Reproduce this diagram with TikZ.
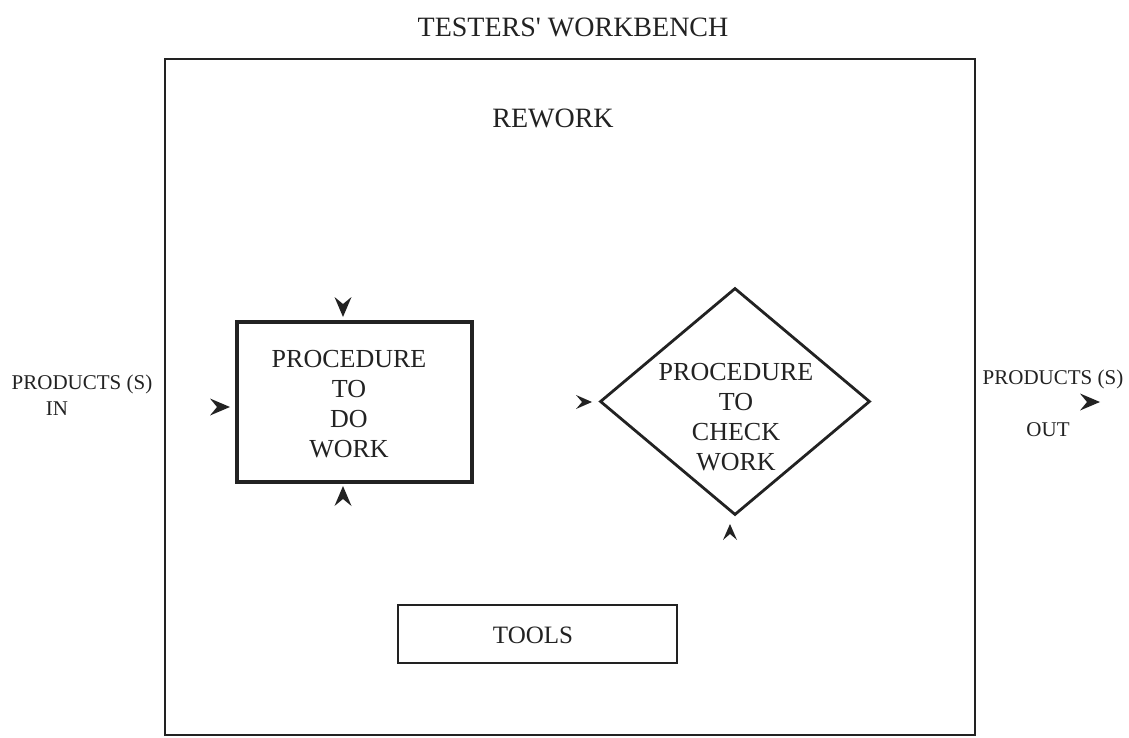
\documentclass[tikz,border=0pt]{standalone}
\usepackage{fontspec}
\setmainfont{Liberation Serif}
\usetikzlibrary{shapes.geometric}
\definecolor{ink}{HTML}{222222}
\tikzset{
  txt/.style={text=ink,inner sep=0pt,align=center,font=\fontsize{26}{30}\selectfont},
  smalltxt/.style={text=ink,inner sep=0pt,font=\fontsize{21}{24}\selectfont},
  arrowhead/.pic={\fill[ink] (0,0) -- (-20,-8.5) -- (-13,0) -- (-20,8.5) -- cycle;},
  smallarrowhead/.pic={\fill[ink] (0,0) -- (-16,-7) -- (-10,0) -- (-16,7) -- cycle;},
}
\begin{document}
\begin{tikzpicture}[x=1pt,y=-1pt]
\useasboundingbox (0,0) rectangle (1129,738);
% title
\node[txt,font=\fontsize{28}{32}\selectfont] (title) at (573,27) {TESTERS\textquotesingle\ WORKBENCH};
% frame
\node[draw=ink,line width=2.8pt,minimum width=810pt,minimum height=676pt,inner sep=0pt] (frame) at (570,397) {};
\node[txt,font=\fontsize{28}{32}\selectfont] (rework) at (553,118) {REWORK};
% procedure to do work
\node[draw=ink,line width=4pt,minimum width=235pt,minimum height=160pt,inner sep=0pt] (dobox) at (354.5,402) {};
\node[txt] (dotext) at (349,404) {PROCEDURE\\TO\\DO\\WORK};
% procedure to check work
\node[draw=ink,line width=2.8pt,diamond,minimum width=270pt,minimum height=227pt,inner sep=0pt] (check) at (735,401.5) {};
\node[txt] (checktext) at (736,417) {PROCEDURE\\TO\\CHECK\\WORK};
% tools
\node[draw=ink,line width=2.2pt,minimum width=279pt,minimum height=58pt,inner sep=0pt] (tools) at (537.5,634) {};
\node[txt,font=\fontsize{25}{30}\selectfont] (toolstext) at (533,635) {TOOLS};
% products labels
\node[smalltxt] (pin) at (82,384) {PRODUCTS (S)};
\node[smalltxt] (pinb) at (57,409) {IN};
\node[smalltxt] (pout) at (1053,379) {PRODUCTS (S)};
\node[smalltxt] (poutb) at (1048,430) {OUT};
% arrowheads (tip positions)
\coordinate (a1) at (230,407);
\coordinate (a2) at (343,317);
\coordinate (a3) at (343,486);
\coordinate (a4) at (592,402);
\coordinate (a5) at (730,524);
\coordinate (a6) at (1100,402);
\pic at (a1) {arrowhead};
\pic[rotate=-90] at (a2) {arrowhead};
\pic[rotate=90] at (a3) {arrowhead};
\pic at (a4) {smallarrowhead};
\pic[rotate=90] at (a5) {smallarrowhead};
\pic at (a6) {arrowhead};
\end{tikzpicture}
\end{document}
